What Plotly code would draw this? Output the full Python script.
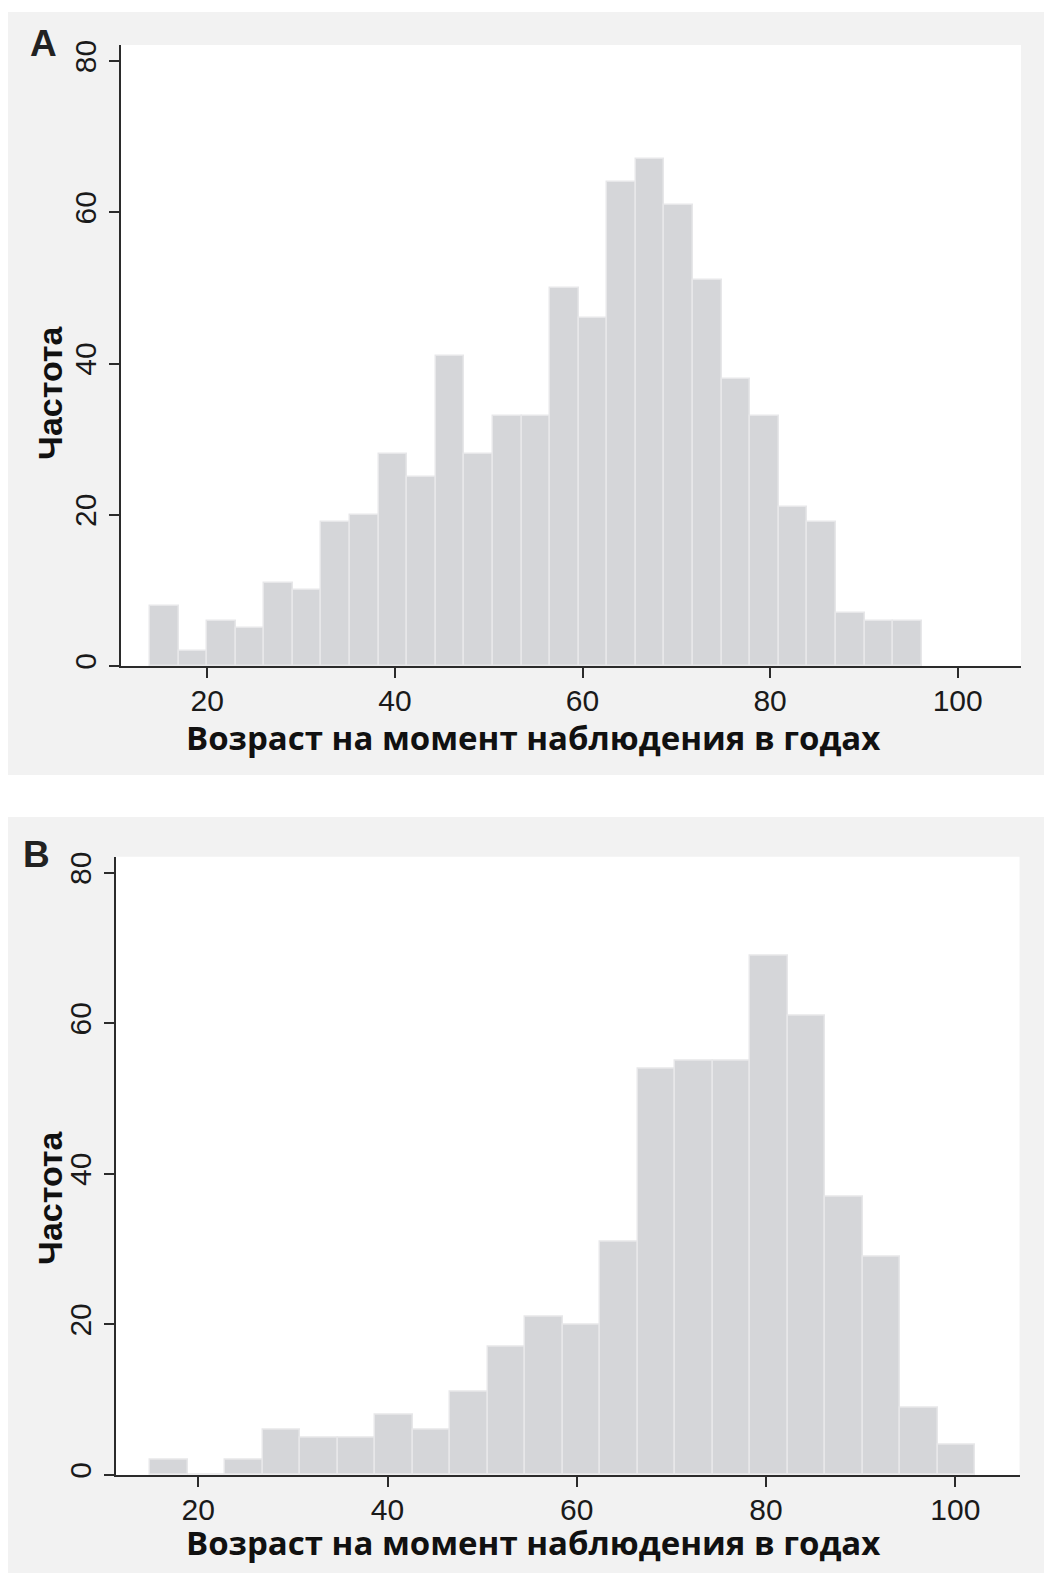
import plotly.graph_objects as go

# ---------------- data ----------------
counts_a = [8, 2, 6, 5, 11, 10, 19, 20, 28, 25, 41, 28, 33, 33, 50, 46, 64, 67, 61, 51, 38, 33, 21, 19, 7, 6, 6]
bin_start_a = 13.89
bin_width_a = 3.047

counts_b = [2, 0, 2, 6, 5, 5, 8, 6, 11, 17, 21, 20, 31, 54, 55, 55, 69, 61, 37, 29, 9, 4]
bin_start_b = 14.9
bin_width_b = 3.964

x_ticks = [20, 40, 60, 80, 100]
y_ticks = [0, 20, 40, 60, 80]
x_title = "Возраст на момент наблюдения в годах"
y_title = "Частота"
panel_labels = ["A", "B"]

# ---------------- layout helpers ----------------
W, H = 1044, 1573


def px(x):
    return x / W


def py(y):
    return 1 - y / H


def centers(start, width, n):
    return [start + width * (i + 0.5) for i in range(n)]


BAR_FILL = "#d5d6d9"
BAR_EDGE = "#e7e7e9"
AXIS = "#2b2b2b"
PANEL_BG = "#f2f2f2"

fig = go.Figure()

fig.add_trace(go.Bar(
    x=centers(bin_start_a, bin_width_a, len(counts_a)), y=counts_a,
    width=[bin_width_a] * len(counts_a),
    marker=dict(color=BAR_FILL, line=dict(color=BAR_EDGE, width=1.5)),
    xaxis="x", yaxis="y", showlegend=False, hoverinfo="skip"))

fig.add_trace(go.Bar(
    x=centers(bin_start_b, bin_width_b, len(counts_b)), y=counts_b,
    width=[bin_width_b] * len(counts_b),
    marker=dict(color=BAR_FILL, line=dict(color=BAR_EDGE, width=1.5)),
    xaxis="x2", yaxis="y2", showlegend=False, hoverinfo="skip"))

# panel geometry (pixels)
panels = [
    dict(left=121, right=1021, top=45, bottom=666, x20=207.3, x100=957.7, y80=61,
         bg=(8, 12, 1044, 775), xline_left=111, ytitle_y=393, xtitle_y=737,
         lab=(43, 43)),
    dict(left=116, right=1019.5, top=856.7, bottom=1475, x20=198.3, x100=955.3, y80=872.7,
         bg=(8, 817, 1044, 1576), xline_left=106, ytitle_y=1198, xtitle_y=1542,
         lab=(36, 854)),
]

shapes = []
annotations = []
axis_common = dict(showgrid=False, zeroline=False, showline=True, linecolor=AXIS, linewidth=2,
                   ticks="outside", ticklen=10, tickwidth=2, tickcolor=AXIS,
                   tickfont=dict(family="Liberation Sans, Arial", size=30, color="#1a1a1a"),
                   fixedrange=True, automargin=False)

for i, p in enumerate(panels):
    sx = "" if i == 0 else "2"
    xppu = (p["x100"] - p["x20"]) / 80.0
    x_lo = 20 - (p["x20"] - p["left"]) / xppu
    x_hi = 100 + (p["right"] - p["x100"]) / xppu
    yppu = (p["bottom"] - p["y80"]) / 80.0
    y_hi = (p["bottom"] - p["top"]) / yppu

    fig.layout["xaxis" + sx] = dict(
        axis_common, domain=[px(p["left"]), px(p["right"])], range=[x_lo, x_hi],
        tickvals=x_ticks, anchor="y" + sx, ticklabelstandoff=-3)
    fig.layout["yaxis" + sx] = dict(
        axis_common, domain=[py(p["bottom"]), py(p["top"])], range=[0, y_hi],
        tickvals=y_ticks, tickangle=-90, anchor="x" + sx, ticklabelstandoff=1)

    x0, y0, x1, y1 = p["bg"]
    shapes.append(dict(type="rect", xref="paper", yref="paper", layer="below",
                       x0=px(x0), x1=px(x1), y0=py(y1), y1=py(y0),
                       fillcolor=PANEL_BG, line=dict(width=0)))
    shapes.append(dict(type="rect", xref="paper", yref="paper", layer="below",
                       x0=px(p["left"]), x1=px(p["right"]), y0=py(p["bottom"]), y1=py(p["top"]),
                       fillcolor="white", line=dict(width=0)))
    shapes.append(dict(type="line", xref="paper", yref="paper", layer="above",
                       x0=px(p["xline_left"]), x1=px(p["left"]), y0=py(p["bottom"]), y1=py(p["bottom"]),
                       line=dict(color=AXIS, width=2)))

    annotations.append(dict(text="<b>" + y_title + "</b>", xref="paper", yref="paper", showarrow=False,
                            x=px(50), y=py(p["ytitle_y"]), xanchor="center", yanchor="middle",
                            textangle=-90,
                            font=dict(family="Liberation Sans, Arial", size=34, color="#111111")))
    annotations.append(dict(text="<b>" + x_title + "</b>", xref="paper", yref="paper", showarrow=False,
                            x=px(532.5), y=py(p["xtitle_y"]), xanchor="center", yanchor="middle",
                            font=dict(family="Open Sans", size=33, color="#111111")))
    annotations.append(dict(text="<b>" + panel_labels[i] + "</b>", xref="paper", yref="paper",
                            showarrow=False, x=px(p["lab"][0]), y=py(p["lab"][1]),
                            xanchor="center", yanchor="middle",
                            font=dict(family="Liberation Sans, Arial", size=37, color="#222222")))

fig.update_layout(
    width=W, height=H,
    margin=dict(l=0, r=0, t=0, b=0),
    paper_bgcolor="white", plot_bgcolor="rgba(0,0,0,0)",
    bargap=0, shapes=shapes, annotations=annotations,
)

fig.write_html("out.html", config={"displayModeBar": False},
               post_script="document.body.style.margin='0';document.body.style.overflow='hidden';")
